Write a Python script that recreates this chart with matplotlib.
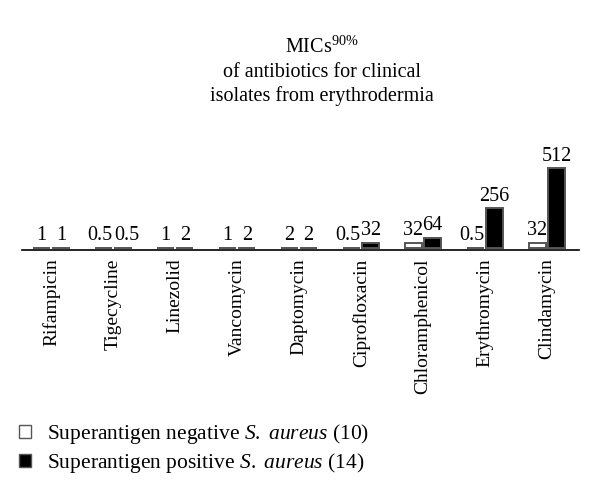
import matplotlib.pyplot as plt
import numpy as np
from matplotlib.patches import Patch

antibiotics = ["Rifampicin", "Tigecycline", "Linezolid", "Vancomycin", "Daptomycin",
               "Ciprofloxacin", "Chloramphenicol", "Erythromycin", "Clindamycin"]
mic_negative = [1, 0.5, 1, 1, 2, 0.5, 32, 0.5, 32]
mic_positive = [1, 0.5, 2, 2, 2, 32, 64, 256, 512]
labels_negative = ["1", "0.5", "1", "1", "2", "0.5", "32", "0.5", "32"]
labels_positive = ["1", "0.5", "2", "2", "2", "32", "64", "256", "512"]

plt.rcParams["font.family"] = ["Liberation Serif", "DejaVu Serif"]
plt.rcParams["mathtext.fontset"] = "custom"
plt.rcParams["mathtext.rm"] = "Liberation Serif"
plt.rcParams["mathtext.it"] = "Liberation Serif:italic"
plt.rcParams["font.size"] = 14

fig = plt.figure(figsize=(6, 4.94), dpi=100)
ax = fig.add_axes([0.037, 0.494, 0.928, 0.243])

x = np.arange(len(antibiotics))
width = 0.28
edge = "#555555"
b1 = ax.bar(x - width / 2 - 0.015, mic_negative, width, color="white", edgecolor=edge, linewidth=1.4)
b2 = ax.bar(x + width / 2 + 0.015, mic_positive, width, color="black", edgecolor=edge, linewidth=1.4)

# "0.5" labels are wide, nudge them outwards so they don't run into the neighbour
for bars, labs, side in [(b1, labels_negative, -1), (b2, labels_positive, 1)]:
    for rect, lab in zip(bars, labs):
        dx = side * 2.5 if lab == "0.5" else 0
        ax.annotate(lab, (rect.get_x() + rect.get_width() / 2, rect.get_height()),
                    xytext=(dx, 2), textcoords="offset points", ha="center", va="bottom",
                    fontsize=14.5)

ax.set_xlim(-0.47, 8.52)
# baseline a touch below zero so the tiny bars show as a strip above the axis line
ax.set_ylim(-12, 760)
ax.set_xticks(x)
ax.set_xticklabels(antibiotics, rotation=90, fontsize=14)
ax.tick_params(axis="x", length=0, pad=6)
ax.set_yticks([])
for side in ["top", "right", "left"]:
    ax.spines[side].set_visible(False)
ax.spines["bottom"].set_linewidth(1.2)

fig.text(0.537, 0.905, r"MICs$^{90\%}$", ha="center", va="center", fontsize=14.5)
fig.text(0.537, 0.853, "of antibiotics for clinical", ha="center", va="center", fontsize=14.5)
fig.text(0.537, 0.805, "isolates from erythrodermia", ha="center", va="center", fontsize=14.5)

handles = [Patch(facecolor="white", edgecolor=edge, linewidth=1.0),
           Patch(facecolor="black", edgecolor=edge, linewidth=1.0)]
fig.legend(handles, [r"Superantigen negative $S.\ aureus$ (10)",
                     r"Superantigen positive $S.\ aureus$ (14)"],
           loc="upper left", bbox_to_anchor=(0.0, 0.185), frameon=False,
           handlelength=0.55, handleheight=0.55, handletextpad=0.75, labelspacing=0.25,
           fontsize=15.5)

fig.savefig("out.png", dpi=100)
